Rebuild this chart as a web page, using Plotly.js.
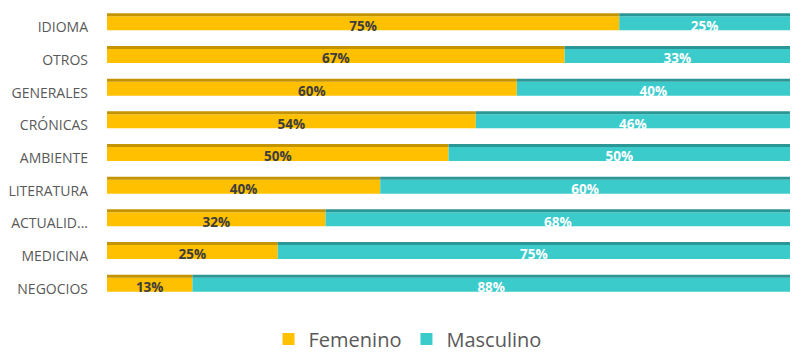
<!DOCTYPE html>
<html>
<head>
<meta charset="utf-8">
<script src="https://cdn.plot.ly/plotly-3.0.1.min.js"></script>
<style>
html,body{margin:0;padding:0;background:#fff;}
#chart{width:807px;height:355px;}
</style>
</head>
<body>
<div id="chart"></div>
<script>
const categories = ["IDIOMA","OTROS","GENERALES","CRÓNICAS","AMBIENTE","LITERATURA","ACTUALID...","MEDICINA","NEGOCIOS"];
const femenino = [75, 67, 60, 54, 50, 40, 32, 25, 12.5];
const masculino = [25, 33, 40, 46, 50, 60, 68, 75, 87.5];
const seriesNames = ["Femenino", "Masculino"];

const gold = "#FFC000", goldDark = "#C49300";
const teal = "#3CCBCB", tealDark = "#2B9696";
const fontFam = "Open Sans, Noto Sans, sans-serif";

const mainOff = -0.336, mainW = 0.427, stripW = 0.092;
const traces = [
  {
    type: "bar", orientation: "h", name: seriesNames[0],
    y: categories, x: femenino, base: femenino.map(() => 0),
    width: mainW, offset: mainOff,
    marker: {color: gold}, textposition: "none", hoverinfo: "skip"
  },
  {
    type: "bar", orientation: "h", name: seriesNames[1],
    y: categories, x: masculino, base: femenino,
    width: mainW, offset: mainOff,
    marker: {color: teal}, textposition: "none", hoverinfo: "skip"
  },
  {
    type: "bar", orientation: "h", showlegend: false,
    y: categories, x: femenino, base: femenino.map(() => 0),
    width: stripW, offset: mainOff - stripW,
    marker: {color: goldDark}, hoverinfo: "skip"
  },
  {
    type: "bar", orientation: "h", showlegend: false,
    y: categories, x: masculino, base: femenino,
    width: stripW, offset: mainOff - stripW,
    marker: {color: tealDark}, hoverinfo: "skip"
  },
  {
    type: "scatter", mode: "text", showlegend: false, hoverinfo: "skip",
    y: categories, x: femenino.map(v => v / 2),
    text: femenino.map(v => Math.round(v) + "%"),
    textposition: "middle center",
    textfont: {family: fontFam, size: 13.5, weight: 700, color: "#3d3d3d"}
  },
  {
    type: "scatter", mode: "text", showlegend: false, hoverinfo: "skip",
    y: categories, x: masculino.map((v, i) => femenino[i] + v / 2),
    text: masculino.map(v => Math.round(v) + "%"),
    textposition: "middle center",
    textfont: {family: fontFam, size: 13.5, weight: 700, color: "#ffffff"}
  }
];

const layout = {
  width: 807, height: 355,
  margin: {l: 107, r: 17, t: 11, b: 50},
  barmode: "overlay",
  paper_bgcolor: "#ffffff", plot_bgcolor: "#ffffff",
  xaxis: {range: [0, 100], showticklabels: false, showgrid: false, zeroline: false, showline: false, fixedrange: true},
  yaxis: {autorange: "reversed", showgrid: false, zeroline: false, showline: false, ticks: "",
          ticklabelstandoff: 18,
          tickfont: {family: fontFam, size: 14, color: "#595959"}},
  showlegend: true,
  legend: {orientation: "h", xref: "container", x: 0.505, xanchor: "center", yref: "container", y: 0.045, yanchor: "middle",
           font: {family: fontFam, size: 20, color: "#595959"},
           traceorder: "normal", itemwidth: 30}
};

Plotly.newPlot("chart", traces, layout, {staticPlot: true, displayModeBar: false});
</script>
</body>
</html>
